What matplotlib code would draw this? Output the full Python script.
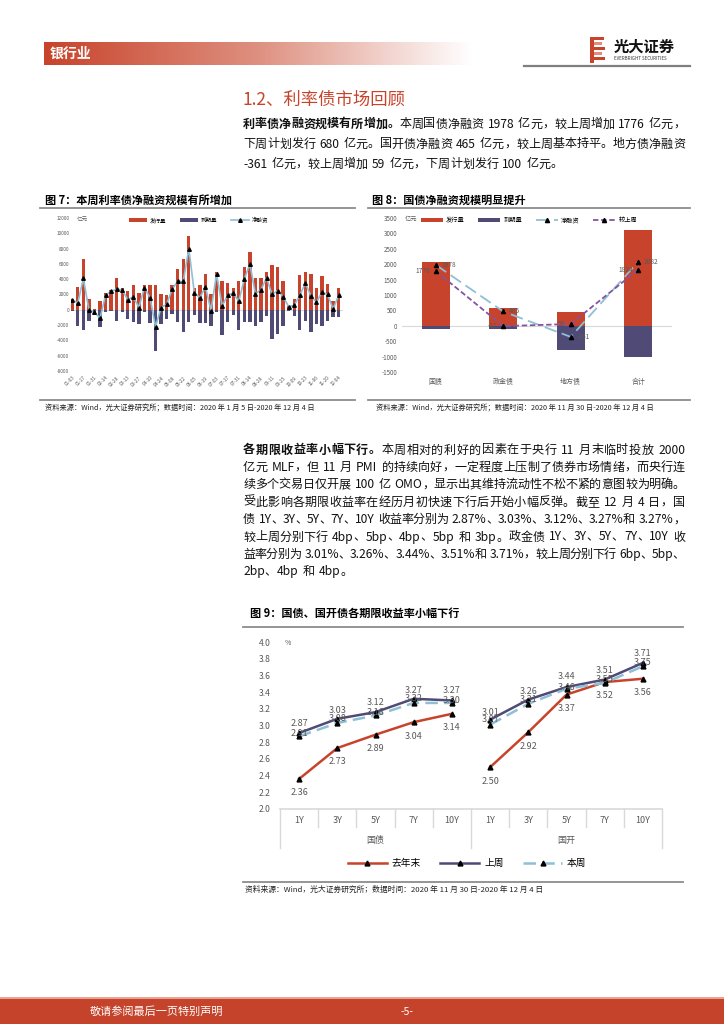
import re
import numpy as np
import matplotlib
matplotlib.use('Agg')
import matplotlib.pyplot as plt
from matplotlib.colors import LinearSegmentedColormap
from matplotlib.lines import Line2D
from matplotlib.patches import Rectangle
from matplotlib.transforms import blended_transform_factory

plt.rcParams['font.family'] = ['Noto Sans CJK SC', 'DejaVu Sans']
plt.rcParams['axes.unicode_minus'] = False

# ---- chart 7: weekly issuance / maturity / net (100m yuan)
weeks = ['01-03', '01-10', '01-17', '01-24', '01-31', '02-07', '02-14', '02-21', '02-28',
         '03-06', '03-13', '03-20', '03-27', '04-03', '04-10', '04-17', '04-24', '05-01',
         '05-08', '05-15', '05-22', '05-29', '06-05', '06-12', '06-19', '06-26', '07-03',
         '07-10', '07-17', '07-24', '07-31', '08-07', '08-14', '08-21', '08-28', '09-04',
         '09-11', '09-18', '09-25', '10-02', '10-09', '10-16', '10-23', '10-30', '11-06',
         '11-13', '11-20', '11-27', '12-04']
issue7 = [1400, 3000, 6700, 1400, 100, 1100, 2200, 2600, 4100, 2900, 2500, 3300, 2200, 3200,
          3300, 3200, 2100, 1900, 3200, 5300, 6600, 9600, 2900, 3300, 4700, 2000, 5000, 3800,
          3500, 2900, 3700, 5600, 7600, 4200, 4200, 5000, 5800, 5600, 3800, 500, 1400, 4500,
          4900, 4700, 2900, 4400, 3400, 1100, 2900]
mature7 = [-100, -2100, -2600, -1400, -400, -2200, -300, -200, -1400, -300, -1200, -1600, -1900,
           -300, -1700, -5400, -1800, -1200, -500, -1600, -2900, -1600, -700, -1700, -1700, -2100,
           -300, -3300, -1600, -700, -2600, -1600, -1600, -2100, -1600, -800, -3800, -3100, -2100,
           -100, -800, -2600, -1400, -2900, -1900, -2100, -1400, -1000, -1000]
net7 = [1300, 900, 4100, 0, -300, -1100, 1900, 2400, 2700, 2600, 1300, 1700, 300, 2900, 1600,
        -2200, 300, 700, 2700, 3700, 3700, 8000, 2200, 1600, 3000, -100, 4700, 500, 1900, 2200,
        1100, 4000, 6000, 2100, 2600, 4200, 2000, 2500, 1700, 400, 600, 1900, 3500, 1800, 1000,
        2300, 2000, 100, 1900]

# ---- chart 8: this week by bond type
types8 = ['国债', '政金债', '地方债', '合计']
issue8 = [2080, 585, 440, 3105]
mature8 = [-102, -120, -801, -1023]
net8 = [1978, 465, -361, 2082]
last8 = [1776, -11, 59, 1824]

# ---- chart 9: yields (%)
tenors = ['1Y', '3Y', '5Y', '7Y', '10Y']
groups9 = ['国债', '国开']
gz_end = [2.36, 2.73, 2.89, 3.04, 3.14]
gz_last = [2.91, 3.08, 3.16, 3.32, 3.30]
gz_now = [2.87, 3.03, 3.12, 3.27, 3.27]
gk_end = [2.50, 2.92, 3.37, 3.52, 3.56]
gk_last = [3.07, 3.31, 3.46, 3.55, 3.75]
gk_now = [3.01, 3.26, 3.44, 3.51, 3.71]

RED = '#C8432B'
NAVY = '#4F4B76'
BLUE = '#8DBFD5'
PURPLE = '#84549F'
GRAY = '#595959'
LINE = '#8C8C8C'

W, H = 724, 1024
fig = plt.figure(figsize=(W / 100, H / 100), dpi=100)
renderer = fig.canvas.get_renderer()


def add_ax(l, t, r, b):
    return fig.add_axes([l / W, 1 - b / H, (r - l) / W, (b - t) / H])


def ftext(x, y, s, **kw):
    return fig.text(x / W, 1 - y / H, s, **kw)


def hline(x0, x1, y, color=LINE, lw=1.3):
    fig.add_artist(Line2D([x0 / W, x1 / W], [1 - y / H, 1 - y / H], color=color, lw=lw))


def rect(x, y, w, h, color):
    fig.add_artist(Rectangle((x / W, 1 - (y + h) / H), w / W, h / H,
                             transform=fig.transFigure, color=color, lw=0))


_wcache = {}


def text_w(s, fs, weight):
    key = (s, fs, weight)
    if key not in _wcache:
        t = fig.text(0, 0, s, fontsize=fs, weight=weight)
        _wcache[key] = t.get_window_extent(renderer).width
        t.remove()
    return _wcache[key]


def justified_line(x0, x1, y, bold, normal, fs=8.7, justify=True):
    # latin/number runs stay whole, CJK one by one; a space rides on the token before it
    toks = []
    for part, wt in ((bold, 'bold'), (normal, 'normal')):
        for tk in re.findall(r'[A-Za-z0-9.%\-]+| |.', part):
            toks.append((tk, wt))
    sp = max(text_w('a a', fs, 'normal') - text_w('aa', fs, 'normal'), 0.33 * fs * 100 / 72)
    items = []
    for tk, wt in toks:
        if tk == ' ' and items:
            items[-1][2] += sp
        else:
            items.append([tk, wt, text_w(tk, fs, wt)])
    total = sum(w for _, _, w in items)
    gap = (x1 - x0 - total) / (len(items) - 1) if justify else 0.0
    x = x0
    for tk, wt, w in items:
        ftext(x, y, tk, fontsize=fs, weight=wt, va='center', color='#111111')
        x += w + gap


# ---- header
hax = add_ax(44, 42, 472, 65)
grad = np.linspace(0, 1, 256).reshape(1, -1)
cmap = LinearSegmentedColormap.from_list('hdr', [RED, '#DE9080', '#FFFFFF'])
hax.imshow(grad, aspect='auto', cmap=cmap, extent=[0, 1, 0, 1])
hax.axis('off')
ftext(50, 53.5, '银行业', color='white', fontsize=10, weight='bold', va='center')

# logo
rect(590, 37, 4, 26, RED)
for i, (yy, ww) in enumerate([(37, 10), (42, 8), (47, 11), (52, 8), (57, 11)]):
    rect(594, yy, ww, 3.2, RED if i % 2 == 0 else '#E58A78')
ftext(614, 47, '光大证券', fontsize=11, weight='bold', va='center', color='#111111')
ftext(614, 59, 'EVERBRIGHT SECURITIES', fontsize=3.2, va='center', color='#333333')
hline(524, 690, 66, color='#7F7F7F', lw=1.6)

# ---- section title and first paragraph
ftext(243, 100, '1.2、利率债市场回顾', color=RED, fontsize=12.5, va='center')
para1 = [
    ('利率债净融资规模有所增加。', '本周国债净融资 1978 亿元，较上周增加 1776 亿元，'),
    ('', '下周计划发行 680 亿元。国开债净融资 465 亿元，较上周基本持平。地方债净融资'),
    ('', '-361 亿元，较上周增加 59 亿元，下周计划发行 100 亿元。'),
]
for i, (b, n) in enumerate(para1):
    justified_line(243, 685, 124 + i * 20, b, n, justify=i < len(para1) - 1)

# ---- chart 7
ftext(45, 200, '图 7：本周利率债净融资规模有所增加', fontsize=8, weight='bold', va='center')
hline(40, 355, 207.5)
ax7 = add_ax(70.6, 218, 343.1, 371)
x7 = np.arange(len(weeks))
ax7.axhline(0, color='#D9D9D9', lw=0.8, zorder=0)
b1 = ax7.bar(x7, issue7, width=0.6, color=RED, label='发行量')
b2 = ax7.bar(x7, mature7, width=0.6, color=NAVY, label='到期量')
l1, = ax7.plot(x7, net7, color=BLUE, lw=1.2, marker='^', ms=2.6, mfc='black', mec='black',
               label='净融资')
ax7.set_ylim(-8000, 12000)
ax7.set_yticks(range(-8000, 12001, 2000))
ax7.set_xlim(-0.3, 48.8)
ax7.set_xticks(x7[::2])
ax7.set_xticklabels(weeks[::2], rotation=45, ha='right', rotation_mode='anchor')
ax7.tick_params(axis='y', length=0, labelsize=3.4, colors=GRAY, pad=1)
ax7.tick_params(axis='x', length=0, labelsize=3.4, colors=GRAY, pad=3)
for s in ax7.spines.values():
    s.set_visible(False)
ax7.legend(handles=[b1, b2, l1], ncol=3, loc='center', bbox_to_anchor=(0.47, 0.985),
           fontsize=4, frameon=False, handlelength=3.2, handleheight=0.7, columnspacing=2.5,
           handletextpad=0.5)
ftext(77, 219, '亿元', fontsize=4, color=GRAY, va='center')
hline(40, 355, 400)
ftext(45, 408, '资料来源：Wind，光大证券研究所；数据时间：2020 年 1 月 5 日-2020 年 12 月 4 日',
      fontsize=5.2, va='center', color='#222222')

# ---- chart 8
ftext(372, 200, '图 8：国债净融资规模明显提升', fontsize=8, weight='bold', va='center')
hline(368, 690, 207.5)
ax8 = add_ax(402, 218, 672, 372)
x8 = np.arange(len(types8))
ax8.axhline(0, color='#D9D9D9', lw=0.8, zorder=0)
c1 = ax8.bar(x8, issue8, width=0.42, color=RED, label='发行量')
c2 = ax8.bar(x8, mature8, width=0.42, color=NAVY, label='到期量')
m1, = ax8.plot(x8, net8, color=BLUE, lw=1.3, ls=(0, (7, 3)), marker='^', ms=3, mfc='black',
               mec='black', label='净融资')
m2, = ax8.plot(x8, last8, color=PURPLE, lw=1.3, ls=(0, (3, 1.5)), marker='^', ms=3,
               mfc='black', mec='black', label='较上周')
for i in range(len(types8)):
    ax8.annotate(str(last8[i]), (i, last8[i]), xytext=(-4, 0), textcoords='offset points',
                 ha='right', va='center', fontsize=4.8, color=GRAY)
    ax8.annotate(str(net8[i]), (i, net8[i]), xytext=(4, 0), textcoords='offset points',
                 ha='left', va='center', fontsize=4.8, color=GRAY)
ax8.set_ylim(-1500, 3500)
ax8.set_yticks(range(-1500, 3501, 500))
ax8.set_xlim(-0.5, 3.5)
ax8.set_xticks(x8)
ax8.set_xticklabels(types8)
ax8.tick_params(axis='y', length=0, labelsize=4.5, colors=GRAY, pad=3.5)
ax8.tick_params(axis='x', length=0, labelsize=5, colors=GRAY, pad=4)
for s in ax8.spines.values():
    s.set_visible(False)
ax8.legend(handles=[c1, c2, m1, m2], ncol=4, loc='center', bbox_to_anchor=(0.47, 0.985),
           fontsize=4.5, frameon=False, handlelength=3.5, handleheight=0.7,
           columnspacing=2.2, handletextpad=0.5)
ftext(405, 219, '亿元', fontsize=4.5, color=GRAY, va='center')
hline(368, 690, 400)
ftext(376, 408, '资料来源：Wind，光大证券研究所；数据时间：2020 年 11 月 30 日-2020 年 12 月 4 日',
      fontsize=5.2, va='center', color='#222222')

# ---- second paragraph
para2 = [
    ('各期限收益率小幅下行。', '本周相对的利好的因素在于央行 11 月末临时投放 2000'),
    ('', '亿元 MLF，但 11 月 PMI 的持续向好，一定程度上压制了债券市场情绪，而央行连'),
    ('', '续多个交易日仅开展 100 亿 OMO，显示出其维持流动性不松不紧的意图较为明确。'),
    ('', '受此影响各期限收益率在经历月初快速下行后开始小幅反弹。截至 12 月 4 日，国'),
    ('', '债 1Y、3Y、5Y、7Y、10Y 收益率分别为 2.87%、3.03%、3.12%、3.27%和 3.27%，'),
    ('', '较上周分别下行 4bp、5bp、4bp、5bp 和 3bp。政金债 1Y、3Y、5Y、7Y、10Y 收'),
    ('', '益率分别为 3.01%、3.26%、3.44%、3.51%和 3.71%，较上周分别下行 6bp、5bp、'),
    ('', '2bp、4bp 和 4bp。'),
]
for i, (b, n) in enumerate(para2):
    justified_line(243, 685, 450 + i * 17.4, b, n, justify=i < len(para2) - 1)

# ---- chart 9
ftext(250, 613, '图 9：国债、国开债各期限收益率小幅下行', fontsize=8, weight='bold', va='center')
hline(243, 683, 627)
ax9 = add_ax(280, 642, 662, 809)
series9 = [
    ('去年末', gz_end, gk_end, RED, '-', -10),
    ('上周', gz_last, gk_last, NAVY, '-', 0),
    ('本周', gz_now, gk_now, BLUE, (0, (5, 2.5)), 9),
]
handles = []
for name, a, b, col, ls, dy in series9:
    for k, vals in enumerate([a, b]):
        xs = np.arange(len(tenors)) + k * len(tenors)
        ax9.plot(xs, vals, color=col, lw=1.8, ls=ls, marker='^', ms=3.5, mfc='black',
                 mec='black', clip_on=False)
        for xx, v in zip(xs, vals):
            ax9.annotate(f'{v:.2f}', (xx, v), xytext=(0, dy), textcoords='offset points',
                         ha='center', va='center', fontsize=6.5, color=GRAY)
    handles.append(Line2D([], [], color=col, lw=1.8, ls=ls, marker='^', ms=3.5,
                          mfc='black', mec='black', label=name))
ax9.set_ylim(2.0, 4.0)
ax9.set_yticks(np.round(np.arange(2.0, 4.01, 0.2), 1))
ax9.set_yticklabels([f'{v:.1f}' for v in np.arange(2.0, 4.01, 0.2)])
ax9.set_xlim(-0.5, 9.5)
ax9.set_xticks([])
ax9.tick_params(axis='y', length=0, labelsize=6.2, colors=GRAY, pad=7)
for s in ax9.spines.values():
    s.set_visible(False)
ax9.axhline(2.0, color='#D9D9D9', lw=1.2, clip_on=False)
tr = blended_transform_factory(ax9.transData, ax9.transAxes)
for j in range(11):
    xv = j - 0.5
    y_end = -0.234 if j in (0, 5, 10) else -0.108
    ax9.add_line(Line2D([xv, xv], [0, y_end], transform=tr, color='#D9D9D9', lw=1,
                        clip_on=False))
for k, g in enumerate(groups9):
    for i, t in enumerate(tenors):
        ax9.text(i + k * len(tenors), -0.066, t, transform=tr, ha='center', va='center',
                 fontsize=6.5, color=GRAY)
    ax9.text(2 + k * len(tenors), -0.186, g, transform=tr, ha='center', va='center',
             fontsize=6.5, color=GRAY)
ax9.legend(handles=handles, ncol=3, loc='center', bbox_to_anchor=(0.49, -0.323), fontsize=7,
           frameon=False, handlelength=4, columnspacing=2.0, handletextpad=0.5)
ftext(285, 643, '%', fontsize=5, color=GRAY, va='center')
hline(243, 683, 882)
ftext(245, 890, '资料来源：Wind，光大证券研究所；数据时间：2020 年 11 月 30 日-2020 年 12 月 4 日',
      fontsize=5.6, va='center', color='#222222')

# ---- footer
rect(0, 997, W, 2, '#E9A393')
rect(0, 999, W, 25, '#C4432A')
ftext(90, 1012, '敬请参阅最后一页特别声明', fontsize=8, color='white', va='center')
ftext(407, 1012, '-5-', fontsize=7.5, color='white', va='center', ha='center')

fig.savefig('out.png', dpi=100)
